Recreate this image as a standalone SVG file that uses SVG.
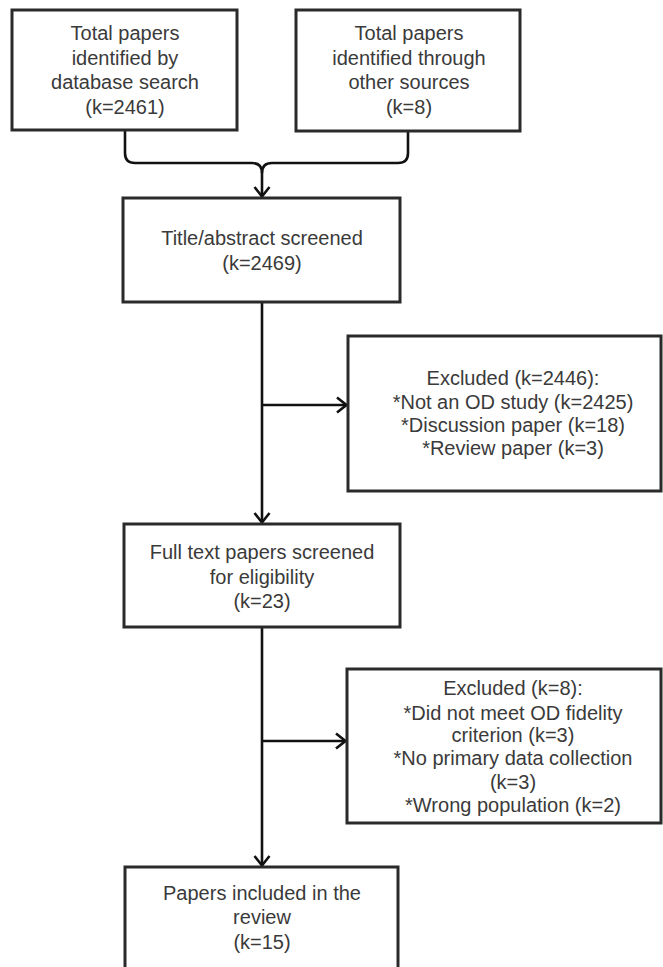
<svg xmlns="http://www.w3.org/2000/svg" width="663" height="967" viewBox="0 0 663 967">
  <style>
    .box { fill: #ffffff; stroke: #2a2a2a; stroke-width: 3; }
    .lbl { font-family: "Liberation Sans", Arial, sans-serif; font-size: 20px; fill: #3a3a3a; text-anchor: middle; }
    .con { fill: none; stroke: #111111; stroke-width: 2.6; }
  </style>
  <defs>
    <marker id="arr" markerUnits="userSpaceOnUse" markerWidth="16" markerHeight="20" viewBox="0 0 16 20" refX="12" refY="10" orient="auto">
      <path d="M2,2.5 L11.5,10 L2,17.5" fill="none" stroke="#111111" stroke-width="2.6" stroke-linejoin="miter"/>
    </marker>
  </defs>
  <rect width="663" height="967" fill="#ffffff"/>

  <g id="connectors">
    <path class="con" d="M125,131 V153 Q125,163 135,163 H252 Q262,163 262,173 V197" marker-end="url(#arr)"/>
    <path class="con" d="M408,131 V153 Q408,163 398,163 H272 Q262,163 262,173"/>
    <path class="con" d="M262,302 V523" marker-end="url(#arr)"/>
    <path class="con" d="M262,405 H347" marker-end="url(#arr)"/>
    <path class="con" d="M262,627 V866" marker-end="url(#arr)"/>
    <path class="con" d="M262,741 H346" marker-end="url(#arr)"/>
  </g>

  <g id="node-database">
    <rect class="box" x="12" y="10" width="225" height="120"/>
    <text class="lbl" x="125" y="40">Total papers</text>
    <text class="lbl" x="125" y="65">identified by</text>
    <text class="lbl" x="125" y="89">database search</text>
    <text class="lbl" x="125" y="114">(k=2461)</text>
  </g>

  <g id="node-other">
    <rect class="box" x="296" y="10" width="224" height="121"/>
    <text class="lbl" x="409" y="40">Total papers</text>
    <text class="lbl" x="409" y="65">identified through</text>
    <text class="lbl" x="409" y="89">other sources</text>
    <text class="lbl" x="409" y="114">(k=8)</text>
  </g>

  <g id="node-title">
    <rect class="box" x="123" y="198" width="277" height="104"/>
    <text class="lbl" x="262" y="245">Title/abstract screened</text>
    <text class="lbl" x="262" y="270">(k=2469)</text>
  </g>

  <g id="node-excluded1">
    <rect class="box" x="348" y="336" width="313" height="155"/>
    <text class="lbl" x="513" y="385">Excluded (k=2446):</text>
    <text class="lbl" x="513" y="409">*Not an OD study (k=2425)</text>
    <text class="lbl" x="513" y="432">*Discussion paper (k=18)</text>
    <text class="lbl" x="513" y="455">*Review paper (k=3)</text>
  </g>

  <g id="node-fulltext">
    <rect class="box" x="124" y="524" width="276" height="103"/>
    <text class="lbl" x="262" y="559">Full text papers screened</text>
    <text class="lbl" x="262" y="584">for eligibility</text>
    <text class="lbl" x="262" y="608">(k=23)</text>
  </g>

  <g id="node-excluded2">
    <rect class="box" x="347" y="669" width="314" height="154"/>
    <text class="lbl" x="513" y="695">Excluded (k=8):</text>
    <text class="lbl" x="513" y="720">*Did not meet OD fidelity</text>
    <text class="lbl" x="513" y="742">criterion (k=3)</text>
    <text class="lbl" x="513" y="765">*No primary data collection</text>
    <text class="lbl" x="513" y="789">(k=3)</text>
    <text class="lbl" x="513" y="812">*Wrong population (k=2)</text>
  </g>

  <g id="node-included">
    <rect class="box" x="125" y="867" width="273" height="120"/>
    <text class="lbl" x="262" y="900">Papers included in the</text>
    <text class="lbl" x="262" y="924">review</text>
    <text class="lbl" x="262" y="949">(k=15)</text>
  </g>
</svg>
